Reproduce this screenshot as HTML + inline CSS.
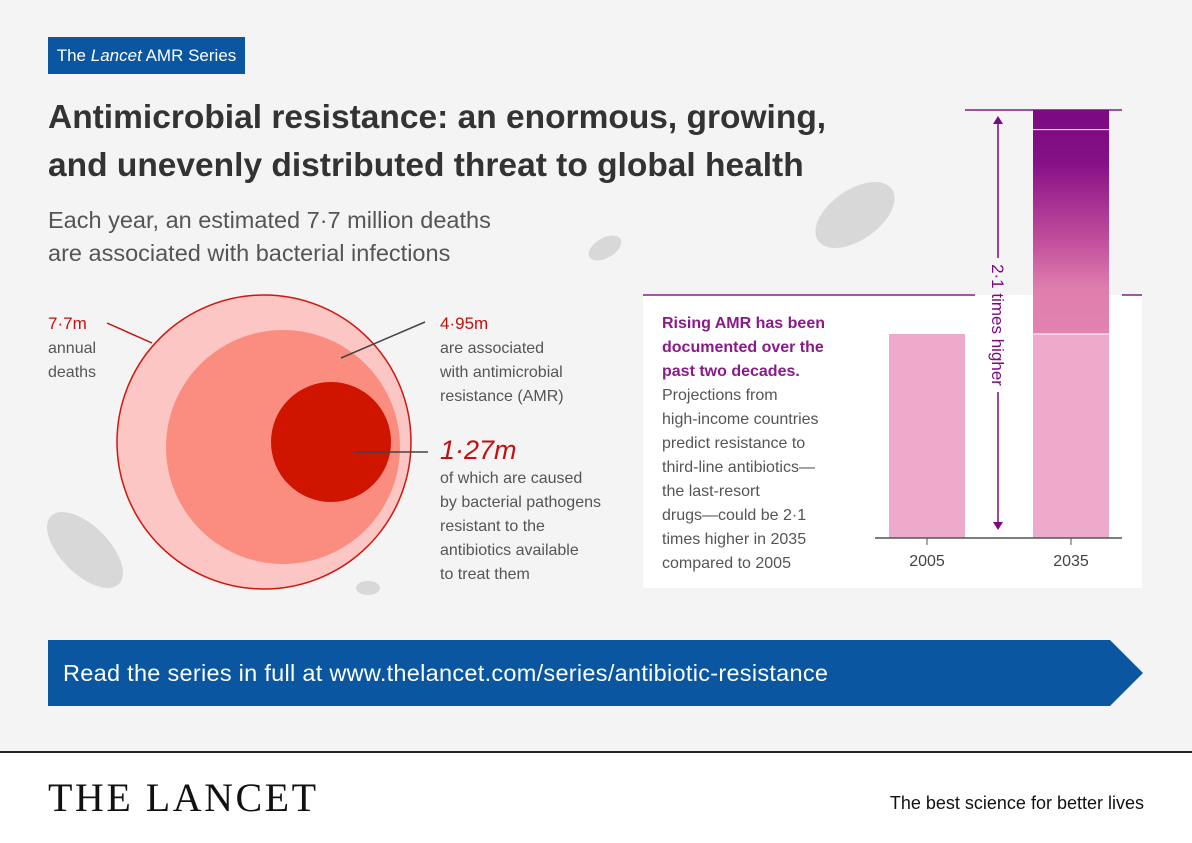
<!DOCTYPE html>
<html><head><meta charset="utf-8"><style>
body{margin:0;width:1192px;height:841px;background:#f4f4f4;font-family:"Liberation Sans",sans-serif;position:relative;overflow:hidden}
.a{position:absolute}
</style></head><body>
<div class="a" style="left:48px;top:37px;width:197px;height:37px;background:#0a56a0;color:#fff;font-size:17px;line-height:37px;text-align:center">The <i>Lancet</i> AMR Series</div>
<div class="a" style="left:48px;top:94px;font-size:33.5px;font-weight:bold;color:#333;line-height:48px">Antimicrobial resistance: an enormous, growing,<br>and unevenly distributed threat to global health</div>
<div class="a" style="left:48px;top:204px;font-size:23.5px;color:#555;line-height:33px">Each year, an estimated 7·7 million deaths<br>are associated with bacterial infections</div>
<div class="a" style="left:643px;top:295px;width:499px;height:293px;background:#fff"></div>
<svg class="a" style="left:0;top:0" width="1192" height="841">
<g fill="#d8d8d8">
<ellipse cx="855" cy="215" rx="45" ry="25" transform="rotate(-35 855 215)"/>
<ellipse cx="605" cy="248" rx="18" ry="10" transform="rotate(-30 605 248)"/>
<ellipse cx="85" cy="550" rx="48" ry="24" transform="rotate(45 85 550)"/>
<ellipse cx="368" cy="588" rx="12" ry="7"/>
</g>
<g>
<circle cx="264" cy="442" r="147" fill="#fcc6c4" stroke="#d0160e" stroke-width="1.5"/>
<circle cx="283" cy="447" r="117" fill="#fb8d80"/>
<circle cx="331" cy="442" r="60" fill="#cf1500"/>
<line x1="107" y1="323" x2="152" y2="343" stroke="#c01010" stroke-width="1.5"/>
<line x1="341" y1="358" x2="425" y2="322" stroke="#444" stroke-width="1.5"/>
<line x1="354" y1="452" x2="428" y2="452" stroke="#444" stroke-width="1.5"/>
</g>
<defs><linearGradient id="g" x1="0" y1="0" x2="0" y2="1"><stop offset="0" stop-color="#7b0a80"/><stop offset="0.12" stop-color="#850f86"/><stop offset="0.3" stop-color="#c04c9c"/><stop offset="0.42" stop-color="#e07fae"/><stop offset="1" stop-color="#e88fba"/></linearGradient></defs>
<line x1="643" y1="295" x2="975" y2="295" stroke="#8a1a8a" stroke-width="1.5"/>
<line x1="1122" y1="295" x2="1142" y2="295" stroke="#8a1a8a" stroke-width="1.5"/>
<line x1="965" y1="110" x2="1122" y2="110" stroke="#8a1a8a" stroke-width="1.5"/>
<g id="bars"></g>
<line x1="875" y1="538" x2="1122" y2="538" stroke="#555" stroke-width="1.5"/>
<line x1="927" y1="538" x2="927" y2="545" stroke="#555"/>
<line x1="1071" y1="538" x2="1071" y2="545" stroke="#555"/>
<text x="927" y="566" text-anchor="middle" font-size="16" fill="#444">2005</text>
<text x="1071" y="566" text-anchor="middle" font-size="16" fill="#444">2035</text>
<g stroke="#7b0a80" stroke-width="1.5" fill="#7b0a80">
<line x1="998" y1="120" x2="998" y2="258"/><line x1="998" y1="392" x2="998" y2="528"/>
<path d="M993 124L998 116L1003 124Z" stroke="none"/><path d="M993 522L998 530L1003 522Z" stroke="none"/>
</g>
<text transform="translate(992 325) rotate(90)" text-anchor="middle" font-size="17" fill="#7b0a80">2·1 times higher</text>
</svg>
<div class="a" style="left:48px;top:312px;font-size:16px;color:#555;line-height:24px"><span style="color:#c01010;font-size:17px">7·7m</span><br>annual<br>deaths</div>
<div class="a" style="left:440px;top:312px;font-size:16px;color:#555;line-height:24px"><span style="color:#c01010;font-size:17px">4·95m</span><br>are associated<br>with antimicrobial<br>resistance (AMR)</div>
<div class="a" style="left:440px;top:433px;font-size:16px;color:#555;line-height:24px"><span style="color:#c01010;font-size:27px;font-style:italic;line-height:34px">1·27m</span><br>of which are caused<br>by bacterial pathogens<br>resistant to the<br>antibiotics available<br>to treat them</div>
<div class="a" style="left:662px;top:312px;font-size:16px;color:#555;line-height:24px"><b style="color:#8a1a8a">Rising AMR has been<br>documented over the<br>past two decades.</b><br>Projections from<br>high-income countries<br>predict resistance to<br>third-line antibiotics—<br>the last-resort<br>drugs—could be 2·1<br>times higher in 2035<br>compared to 2005</div>
<svg class="a" style="left:48px;top:640px" width="1096" height="66"><path d="M0 0H1062L1095 33L1062 66H0Z" fill="#0a56a0"/><text x="15" y="41" font-size="23.5" fill="#fff" textLength="765">Read the series in full at www.thelancet.com/series/antibiotic-resistance</text></svg>
<div class="a" style="left:0;top:751px;width:1192px;height:90px;background:#fff;border-top:2px solid #222"></div>
<div class="a" style="left:48px;top:774px;font-family:'Liberation Serif',serif;font-size:40px;color:#111;letter-spacing:2.5px">THE LANCET</div>
<div class="a" style="right:48px;top:793px;font-size:18px;color:#111">The best science for better lives</div>
<script>
const years=["2005","2035"];
const values=[1,2.1];
const ns="http://www.w3.org/2000/svg";
const base=538, unit=204, xs={"2005":889,"2035":1033};
const g=document.getElementById('bars');
years.forEach((y,i)=>{
 const h=values[i]*unit;
 const r=document.createElementNS(ns,'rect');
 r.setAttribute('x',xs[y]);r.setAttribute('y',base-h);r.setAttribute('width',76);r.setAttribute('height',h);
 r.setAttribute('fill',i==0?'#eeaacb':'url(#g)');
 
 
 g.appendChild(r);
 if(i>0){
  const l=document.createElementNS(ns,'rect');
  l.setAttribute('x',xs[y]);l.setAttribute('y',base-unit*values[0]);l.setAttribute('width',76);l.setAttribute('height',unit*values[0]);
  l.setAttribute('fill','#eeaacb');
  
  
  g.appendChild(l);
  [base-unit*values[0], base-h+20].forEach(yy=>{const s=document.createElementNS(ns,'line');s.setAttribute('x1',xs[y]);s.setAttribute('x2',xs[y]+76);s.setAttribute('y1',yy);s.setAttribute('y2',yy);s.setAttribute('stroke','#fff');g.appendChild(s);});
 }
});
</script>
</body></html>
